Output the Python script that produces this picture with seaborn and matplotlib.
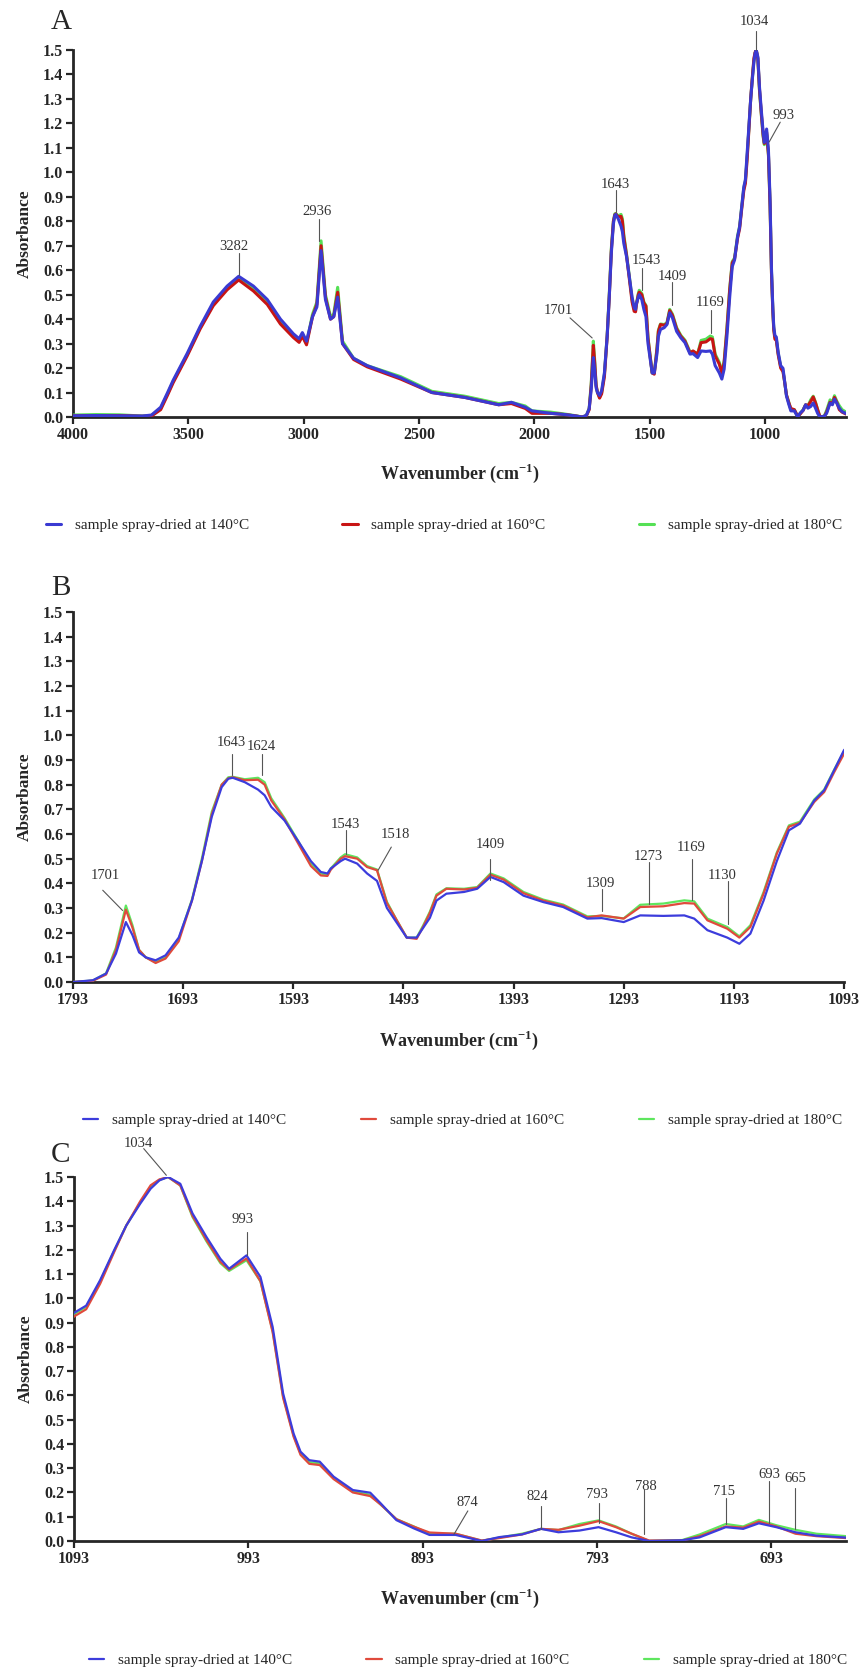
import numpy as np
import pandas as pd
import matplotlib
matplotlib.use("Agg")
import matplotlib.pyplot as plt
import seaborn as sns

# ==========================
# SPECTRA
# ==========================

wavenumber = [
    4000, 3900, 3800, 3700, 3660, 3620, 3590, 3566, 3505, 3449, 3392, 3332,
    3282, 3218, 3158, 3101, 3045, 3020, 3006, 2988, 2962, 2943, 2925, 2906,
    2884, 2870, 2853, 2832, 2784, 2725, 2580, 2445, 2302, 2155, 2100, 2040,
    2011, 1930, 1868, 1820,
    1793, 1775, 1763, 1754, 1745, 1739, 1733, 1727, 1718, 1709, 1697, 1685,
    1676, 1667, 1658, 1652, 1648, 1637, 1625, 1619, 1613, 1601, 1589, 1577,
    1568, 1562, 1559, 1550, 1546, 1535, 1526, 1517, 1508, 1499, 1490, 1481,
    1475, 1469, 1463, 1454, 1438, 1426, 1414, 1402, 1384, 1366, 1348, 1326,
    1313, 1293, 1278, 1257, 1238, 1229, 1217, 1199, 1188, 1178, 1166, 1154,
    1143, 1133, 1120, 1111, 1102, 1093,
    1086, 1078, 1070, 1063, 1055, 1049, 1044, 1039, 1032, 1025, 1017, 1009,
    1004, 994, 986, 979, 973, 967, 963, 958, 952, 944, 933, 923,
    917, 908, 898, 889, 874, 859, 849, 836, 825, 815, 803, 792,
    782, 773, 763, 744, 734, 719, 709, 700, 690, 679, 667, 650,
]

abs_140 = [
    0.005, 0.006, 0.005, 0.004, 0.008, 0.04, 0.10, 0.15, 0.26, 0.37, 0.47, 0.535,
    0.575, 0.535, 0.48, 0.40, 0.34, 0.32, 0.345, 0.31, 0.41, 0.45, 0.68, 0.48,
    0.40, 0.41, 0.49, 0.30, 0.24, 0.21, 0.16, 0.10, 0.08, 0.05, 0.06, 0.04,
    0.025, 0.015, 0.01, 0.004,
    0.0, 0.007, 0.034, 0.115, 0.243, 0.19, 0.12, 0.10, 0.088, 0.108, 0.18, 0.33,
    0.49, 0.67, 0.79, 0.824, 0.828, 0.81, 0.78, 0.757, 0.71, 0.655, 0.574, 0.49,
    0.446, 0.44, 0.46, 0.49, 0.50, 0.48, 0.44, 0.41, 0.30, 0.24, 0.18, 0.18,
    0.22, 0.26, 0.33, 0.358, 0.365, 0.378, 0.426, 0.405, 0.35, 0.324, 0.304, 0.257,
    0.259, 0.243, 0.27, 0.268, 0.27, 0.257, 0.21, 0.18, 0.155, 0.196, 0.33, 0.49,
    0.615, 0.642, 0.736, 0.777, 0.858, 0.94,
    0.97, 1.075, 1.198, 1.30, 1.39, 1.452, 1.486, 1.50, 1.472, 1.35, 1.253, 1.163,
    1.122, 1.177, 1.088, 0.882, 0.608, 0.443, 0.368, 0.333, 0.327, 0.265, 0.21, 0.199,
    0.155, 0.086, 0.052, 0.025, 0.025, 0.0, 0.016, 0.027, 0.05, 0.036, 0.043, 0.057,
    0.036, 0.015, 0.0, 0.003, 0.015, 0.057, 0.05, 0.073, 0.057, 0.036, 0.022, 0.014,
]

abs_160 = [
    0.005, 0.006, 0.006, 0.003, 0.004, 0.03, 0.09, 0.14, 0.25, 0.36, 0.455, 0.52,
    0.56, 0.515, 0.46, 0.38, 0.325, 0.305, 0.33, 0.295, 0.41, 0.46, 0.70, 0.49,
    0.40, 0.41, 0.51, 0.30, 0.235, 0.205, 0.155, 0.10, 0.08, 0.05, 0.055, 0.035,
    0.015, 0.015, 0.01, 0.004,
    0.0, 0.005, 0.03, 0.13, 0.293, 0.22, 0.13, 0.10, 0.077, 0.095, 0.165, 0.33,
    0.49, 0.68, 0.80, 0.826, 0.83, 0.818, 0.82, 0.80, 0.736, 0.66, 0.565, 0.47,
    0.432, 0.43, 0.455, 0.50, 0.51, 0.50, 0.466, 0.453, 0.32, 0.25, 0.18, 0.175,
    0.225, 0.28, 0.35, 0.378, 0.375, 0.382, 0.435, 0.415, 0.36, 0.33, 0.31, 0.262,
    0.27, 0.257, 0.304, 0.307, 0.32, 0.318, 0.25, 0.216, 0.18, 0.223, 0.358, 0.52,
    0.63, 0.645, 0.73, 0.77, 0.85, 0.925,
    0.955, 1.06, 1.19, 1.30, 1.40, 1.466, 1.49, 1.50, 1.465, 1.34, 1.24, 1.15,
    1.118, 1.164, 1.07, 0.86, 0.59, 0.43, 0.355, 0.318, 0.313, 0.255, 0.20, 0.185,
    0.15, 0.09, 0.059, 0.035, 0.03, 0.002, 0.012, 0.027, 0.05, 0.046, 0.063, 0.082,
    0.057, 0.03, 0.002, 0.002, 0.02, 0.06, 0.055, 0.08, 0.06, 0.03, 0.02, 0.012,
]

abs_180 = [
    0.008, 0.010, 0.009, 0.004, 0.006, 0.035, 0.095, 0.145, 0.255, 0.365, 0.46, 0.53,
    0.565, 0.525, 0.47, 0.39, 0.33, 0.31, 0.335, 0.30, 0.42, 0.47, 0.72, 0.50,
    0.41, 0.42, 0.53, 0.31, 0.24, 0.21, 0.165, 0.105, 0.085, 0.055, 0.06, 0.045,
    0.025, 0.02, 0.012, 0.005,
    0.0, 0.006, 0.035, 0.14, 0.31, 0.23, 0.13, 0.10, 0.08, 0.10, 0.175, 0.335,
    0.50, 0.69, 0.80, 0.83, 0.832, 0.822, 0.828, 0.81, 0.745, 0.665, 0.575, 0.48,
    0.44, 0.435, 0.46, 0.505, 0.518, 0.505, 0.47, 0.456, 0.325, 0.25, 0.18, 0.18,
    0.23, 0.285, 0.355, 0.38, 0.378, 0.385, 0.44, 0.42, 0.365, 0.334, 0.314, 0.266,
    0.268, 0.258, 0.313, 0.318, 0.331, 0.327, 0.257, 0.223, 0.185, 0.23, 0.365, 0.525,
    0.635, 0.65, 0.74, 0.78, 0.86, 0.935,
    0.965, 1.07, 1.195, 1.30, 1.395, 1.46, 1.488, 1.50, 1.465, 1.335, 1.235, 1.145,
    1.113, 1.157, 1.07, 0.865, 0.595, 0.435, 0.36, 0.325, 0.32, 0.26, 0.205, 0.19,
    0.15, 0.09, 0.06, 0.03, 0.03, 0.001, 0.014, 0.03, 0.05, 0.045, 0.07, 0.085,
    0.06, 0.03, 0.0, 0.004, 0.027, 0.07, 0.06, 0.087, 0.065, 0.046, 0.03, 0.02,
]

samples = ["sample spray-dried at 140°C",
           "sample spray-dried at 160°C",
           "sample spray-dried at 180°C"]

# peak labels: (text, text position, line start, line end)
peaks_a = [
    ("3282", (3301, 0.695), (3279, 0.67), (3279, 0.58)),
    ("2936", (2941, 0.838), (2932, 0.81), (2932, 0.72)),
    ("1701", (1898, 0.437), (1846, 0.405), (1750, 0.323)),
    ("1643", (1648, 0.952), (1648, 0.928), (1648, 0.838)),
    ("1543", (1513, 0.638), (1535, 0.61), (1535, 0.52)),
    ("1409", (1404, 0.576), (1406, 0.55), (1406, 0.457)),
    ("1169", (1239, 0.466), (1235, 0.437), (1235, 0.343)),
    ("1034", (1048, 1.618), (1039, 1.577), (1039, 1.50)),
    ("993", (922, 1.234), (935, 1.205), (983, 1.124)),
]
peaks_b = [
    ("1701", (1764, 0.432), (1766, 0.372), (1748, 0.29)),
    ("1643", (1649, 0.969), (1649, 0.926), (1649, 0.838)),
    ("1624", (1622, 0.953), (1621, 0.926), (1621, 0.838)),
    ("1543", (1546, 0.639), (1545, 0.615), (1545, 0.52)),
    ("1518", (1500, 0.600), (1504, 0.547), (1516, 0.453)),
    ("1409", (1414, 0.558), (1414, 0.50), (1414, 0.412)),
    ("1309", (1314, 0.399), (1313, 0.378), (1313, 0.288)),
    ("1273", (1271, 0.509), (1270, 0.486), (1270, 0.315)),
    ("1169", (1232, 0.547), (1231, 0.50), (1231, 0.331)),
    ("1130", (1204, 0.432), (1198, 0.41), (1198, 0.236)),
]
peaks_c = [
    ("1034", (1056, 1.637), (1053, 1.617), (1040, 1.507)),
    ("993", (996, 1.326), (994, 1.273), (994, 1.177)),
    ("874", (867, 0.158), (867, 0.124), (875, 0.027)),
    ("824", (827, 0.183), (825, 0.144), (825, 0.048)),
    ("793", (793, 0.190), (792, 0.158), (792, 0.075)),
    ("788", (765, 0.224), (766, 0.213), (766, 0.027)),
    ("715", (720, 0.206), (719, 0.178), (719, 0.069)),
    ("693", (694, 0.274), (694, 0.247), (694, 0.075)),
    ("665", (679, 0.257), (679, 0.22), (679, 0.048)),
]

xticks_a = [4000, 3500, 3000, 2500, 2000, 1500, 1000]
xticks_b = [1793, 1693, 1593, 1493, 1393, 1293, 1193, 1093]
xticks_c = [1093, 993, 893, 793, 693]

# ==========================
# LONG FORMAT TABLE
# ==========================

df = pd.concat([
    pd.DataFrame({"wn": wavenumber, "A": vals, "sample": name})
    for name, vals in zip(samples, [abs_140, abs_160, abs_180])
], ignore_index=True)

sns.set_style("ticks")
plt.rcParams["font.family"] = ["Liberation Serif", "DejaVu Serif"]
plt.rcParams["mathtext.fontset"] = "custom"
plt.rcParams["mathtext.rm"] = "Liberation Serif"
plt.rcParams["mathtext.bf"] = "Liberation Serif:bold"

fig = plt.figure(figsize=(8.62, 16.72), dpi=100)

# axes boxes in figure fraction
boxes = [
    (73 / 862, 1 - 417 / 1672, 773 / 862, 367 / 1672),
    (73 / 862, 1 - 982 / 1672, 771 / 862, 370 / 1672),
    (74 / 862, 1 - 1541 / 1672, 772 / 862, 364 / 1672),
]
panels = [
    ("A", (4000, 650), xticks_a, peaks_a, 2.2, ["#3a3ad2", "#c81414", "#55e055"]),
    ("B", (1793, 1093), xticks_b, peaks_b, 1.6, ["#3c3cdc", "#e04a3c", "#5ee65e"]),
    ("C", (1093, 650), xticks_c, peaks_c, 1.6, ["#3c3cdc", "#e04a3c", "#5ee65e"]),
]
letter_y = [22, 588, 1155]
legend_boxes = [(40, 848, 525), (77, 848, 1120), (83, 853, 1660)]
xlabel_off = [-0.122, -0.127, -0.126]

for i, (letter, xlim, xticks, peaks, lw, colors) in enumerate(panels):
    ax = fig.add_axes(boxes[i])
    sub = df[(df["wn"] <= max(xlim) + 10) & (df["wn"] >= min(xlim) - 10)]
    sns.lineplot(data=sub, x="wn", y="A", hue="sample", hue_order=samples,
                 palette=colors, linewidth=lw, ax=ax, legend=True)
    # blue on top
    for ln, z in zip(ax.lines[:3], [3.2, 3.1, 3.0]):
        ln.set_zorder(z)

    ax.set_xlim(*xlim)
    ax.set_ylim(0, 1.5)
    ax.set_xticks(xticks)
    ax.set_yticks(np.arange(0, 1.51, 0.1))
    ax.set_yticklabels([f"{v:.1f}" for v in np.arange(0, 1.51, 0.1)])
    sns.despine(ax=ax)
    for s in ["left", "bottom"]:
        ax.spines[s].set_linewidth(2.0)
    ax.tick_params(axis="both", direction="out", length=5, width=1.6,
                   labelsize=11.5, pad=2)
    for lab in ax.get_xticklabels() + ax.get_yticklabels():
        lab.set_fontweight("bold")

    ax.set_xlabel(r"Wavenumber (cm$^{\mathbf{-1}}$)", fontsize=13, fontweight="bold")
    ax.xaxis.set_label_coords(0.5, xlabel_off[i])
    ax.set_ylabel("Absorbance", fontsize=12.5, fontweight="bold")
    ax.yaxis.set_label_coords(-0.052, 0.5)

    for txt, tpos, p0, p1 in peaks:
        ax.text(tpos[0], tpos[1], txt, ha="center", va="center",
                fontsize=10.5, color="#333333")
        ax.plot([p0[0], p1[0]], [p0[1], p1[1]], color="#555555", lw=0.8,
                clip_on=False, zorder=5)

    handles, labels = ax.get_legend_handles_labels()
    ax.get_legend().remove()
    x0, x1, ly = legend_boxes[i]
    fig.legend(handles, labels, loc="center", ncol=3, mode="expand",
               bbox_to_anchor=(x0 / 862, 1 - ly / 1672, (x1 - x0) / 862, 0),
               frameon=False, fontsize=11, handlelength=1.0, handletextpad=0.9,
               borderaxespad=0)

    fig.text(61 / 862, 1 - letter_y[i] / 1672, letter, ha="center", va="center",
             fontsize=21)

fig.savefig("out.png", dpi=100)
